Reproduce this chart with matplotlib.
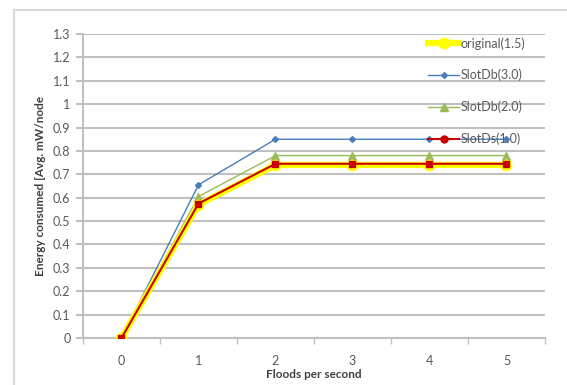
import matplotlib
matplotlib.use("Agg")
import matplotlib.pyplot as plt
from matplotlib.lines import Line2D

plt.rcParams['font.family'] = ['Lato', 'DejaVu Sans']

x_labels = ['0', '1', '2', '3', '4', '5']
original = [0.0, 0.57, 0.74, 0.74, 0.74, 0.74]
slotdb3 = [0.0, 0.655, 0.85, 0.85, 0.85, 0.85]
slotdb2 = [0.0, 0.605, 0.78, 0.78, 0.78, 0.78]
slotds1 = [0.0, 0.575, 0.745, 0.745, 0.745, 0.745]
y_ticks = [0, 0.1, 0.2, 0.3, 0.4, 0.5, 0.6, 0.7, 0.8, 0.9, 1.0, 1.1, 1.2, 1.3]
y_tick_labels = ['0', '0.1', '0.2', '0.3', '0.4', '0.5', '0.6', '0.7', '0.8', '0.9', '1', '1.1', '1.2', '1.3']

W, H = 567, 385
fig = plt.figure(figsize=(W / 100, H / 100), dpi=100)
ax = fig.add_axes([83 / W, 1 - 338 / H, (545 - 83) / W, (338 - 34) / H])

xs = list(range(len(x_labels)))
grid_c = '#c0c0c0'
text_c = '#595959'

ax.plot(xs, slotdb3, color='#4a7ebb', lw=1.0, marker='D', ms=3, zorder=3)
ax.plot(xs, slotdb2, color='#9bbb59', lw=1.0, marker='^', ms=6, zorder=3)
ax.plot(xs, original, color='#ffff00', lw=4.5, marker='o', ms=7.5, zorder=4)
ax.plot(xs, slotds1, color='#c80000', lw=1.5, marker='s', ms=5, zorder=5)

ax.set_xlim(-0.5, 5.5)
ax.set_ylim(0, 1.3)
ax.set_yticks(y_ticks)
ax.set_yticklabels(y_tick_labels)
ax.set_xticks(xs)
ax.set_xticklabels(x_labels)
ax.set_xticks([i + 0.5 for i in range(-1, 6)], minor=True)
ax.tick_params(axis='x', which='major', length=0, pad=12, labelsize=9, labelcolor=text_c)
ax.tick_params(axis='x', which='minor', length=4, color=grid_c, width=1)
ax.tick_params(axis='y', length=5, color=grid_c, width=1.5, labelsize=9, labelcolor=text_c, pad=4)
ax.yaxis.grid(True, color=grid_c, lw=1.5)
ax.set_axisbelow(True)
for s in ['top', 'right']:
    ax.spines[s].set_visible(False)
for s in ['left', 'bottom']:
    ax.spines[s].set_color(grid_c)
    ax.spines[s].set_linewidth(1.5)

ax.set_xlabel('Floods per second', fontsize=8.5, fontweight='bold', color='#404040', labelpad=2)
ax.set_ylabel('Energy consumed [Avg. mW/node', fontsize=8.5, fontweight='bold', color='#404040', labelpad=5)

handles = [
    Line2D([], [], color='#ffff00', lw=4.5, marker='o', ms=7.5),
    Line2D([], [], color='#4a7ebb', lw=1.0, marker='D', ms=3),
    Line2D([], [], color='#9bbb59', lw=1.0, marker='^', ms=6),
    Line2D([], [], color='#c80000', lw=1.5, marker='o', ms=5),
]
labels = ['original(1.5)', 'SlotDb(3.0)', 'SlotDb(2.0)', 'SlotDs(1.0)']
leg = fig.legend(handles, labels, loc='upper left', bbox_to_anchor=(428 / W, 1 - 37 / H),
                 frameon=False, fontsize=9, labelspacing=1.55, handlelength=2.5,
                 handletextpad=0.1, borderaxespad=0, borderpad=0)
for t in leg.get_texts():
    t.set_color(text_c)

fig.add_artist(Line2D([13.5 / W, 13.5 / W], [0, 1 - 9.5 / H], color='#d9d9d9', lw=1.5, transform=fig.transFigure))
fig.add_artist(Line2D([13.5 / W, 1], [1 - 9.5 / H, 1 - 9.5 / H], color='#d9d9d9', lw=1.5, transform=fig.transFigure))

fig.savefig('out.png', dpi=100)
